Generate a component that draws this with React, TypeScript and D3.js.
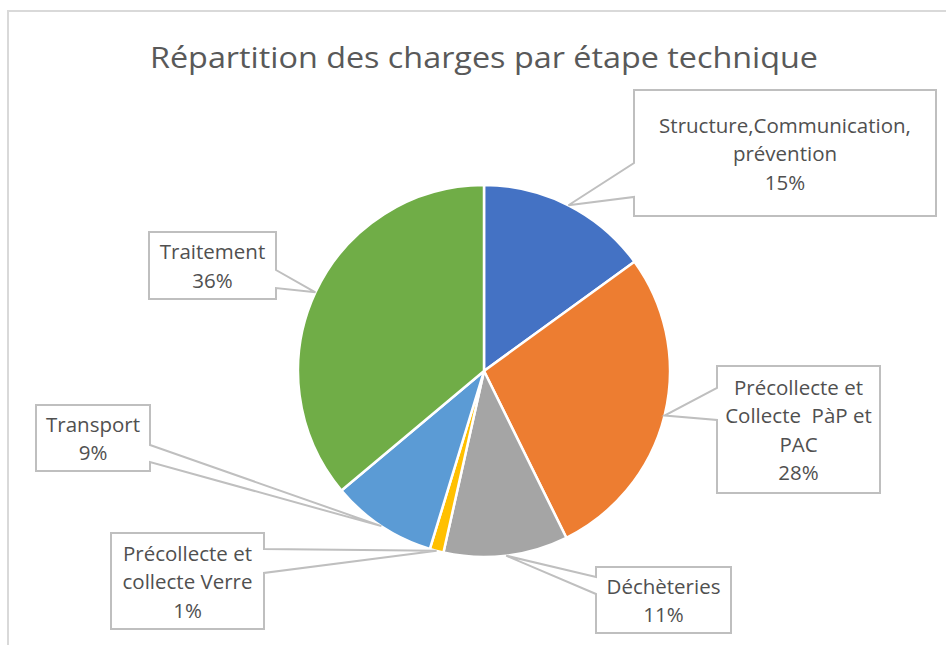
import * as d3 from "d3";
import React from "react";

// slices, clockwise from 12 o'clock
const categories = [
  "Structure,Communication, prévention",
  "Précollecte et Collecte PàP et PAC",
  "Déchèteries",
  "Précollecte et collecte Verre",
  "Transport",
  "Traitement",
];
const values = [15.0, 27.7, 10.8, 1.2, 9.2, 36.1];
const colors = ["#4472C4", "#ED7D31", "#A5A5A5", "#FFC000", "#5B9BD5", "#70AD47"];
// how each label is broken over lines in the callout
const labelLines = [
  ["Structure,Communication,", "prévention"],
  ["Précollecte et", "Collecte  PàP et", "PAC"],
  ["Déchèteries"],
  ["Précollecte et", "collecte Verre"],
  ["Transport"],
  ["Traitement"],
];

// callout boxes (layout only)
const boxes = [
  { x: 634, y: 90, w: 302, h: 126, side: "left", a1: 163, a2: 197 },
  { x: 717, y: 366, w: 163, h: 127, side: "left", a1: 388, a2: 420 },
  { x: 596, y: 567, w: 135, h: 66, side: "left", a1: 577, a2: 594 },
  { x: 111, y: 533, w: 153, h: 96, side: "right", a1: 549, a2: 573 },
  { x: 36, y: 405, w: 114, h: 66, side: "right", a1: 445, a2: 462 },
  { x: 149, y: 232, w: 127, h: 67, side: "right", a1: 270, a2: 288 },
];

const W = 946;
const H = 645;
const cx = 484;
const cy = 371;
const R = 186;
const lineH = 28.5;

function calloutPath(b: any, tip: [number, number]) {
  const p = d3.path();
  if (b.side === "left") {
    p.moveTo(b.x, b.y);
    p.lineTo(b.x + b.w, b.y);
    p.lineTo(b.x + b.w, b.y + b.h);
    p.lineTo(b.x, b.y + b.h);
    p.lineTo(b.x, b.a2);
    p.lineTo(tip[0], tip[1]);
    p.lineTo(b.x, b.a1);
  } else {
    p.moveTo(b.x, b.y);
    p.lineTo(b.x + b.w, b.y);
    p.lineTo(b.x + b.w, b.a1);
    p.lineTo(tip[0], tip[1]);
    p.lineTo(b.x + b.w, b.a2);
    p.lineTo(b.x + b.w, b.y + b.h);
    p.lineTo(b.x, b.y + b.h);
  }
  p.closePath();
  return p.toString();
}

export default function App() {
  const pie = d3.pie<number>().sort(null).value((d) => d);
  const arcs = pie(values);
  const arcGen = d3.arc<d3.PieArcDatum<number>>().innerRadius(0).outerRadius(R);
  const edgeGen = d3.arc<d3.PieArcDatum<number>>().innerRadius(R).outerRadius(R);
  const total = d3.sum(values);
  const pct = d3.format(".0%");

  return (
    <svg
      width={W}
      height={H}
      style={{ position: "absolute", left: 0, top: 0, background: "#fff" }}
      fontFamily="'Open Sans', sans-serif"
    >
      <rect x={8} y={11} width={W + 20} height={H + 20} fill="#fff" stroke="#D9D9D9" strokeWidth={2} />
      <text x={cx} y={68} textAnchor="middle" fontSize={29} fill="#595959" textLength={668} lengthAdjust="spacingAndGlyphs">
        Répartition des charges par étape technique
      </text>

      <g transform={`translate(${cx},${cy})`}>
        {arcs.map((a, i) => (
          <path key={i} d={arcGen(a) as string} fill={colors[i]} stroke="#fff" strokeWidth={2.5} strokeLinejoin="round" />
        ))}
      </g>

      {arcs.map((a, i) => {
        const b = boxes[i];
        const c = edgeGen.centroid(a);
        const tip: [number, number] = [cx + c[0], cy + c[1]];
        const lines = [...labelLines[i], pct(values[i] / total)];
        const midY = b.y + b.h / 2;
        const y0 = midY - ((lines.length - 1) * lineH) / 2;
        return (
          <g key={i}>
            <path d={calloutPath(b, tip)} fill="#fff" stroke="#BFBFBF" strokeWidth={2} />
            <text textAnchor="middle" fontSize={20.5} fill="#505050" dominantBaseline="central">
              {lines.map((l, j) => (
                <tspan key={j} x={b.x + b.w / 2} y={y0 + j * lineH} style={{ whiteSpace: "pre" }}>
                  {l}
                </tspan>
              ))}
            </text>
          </g>
        );
      })}
    </svg>
  );
}
